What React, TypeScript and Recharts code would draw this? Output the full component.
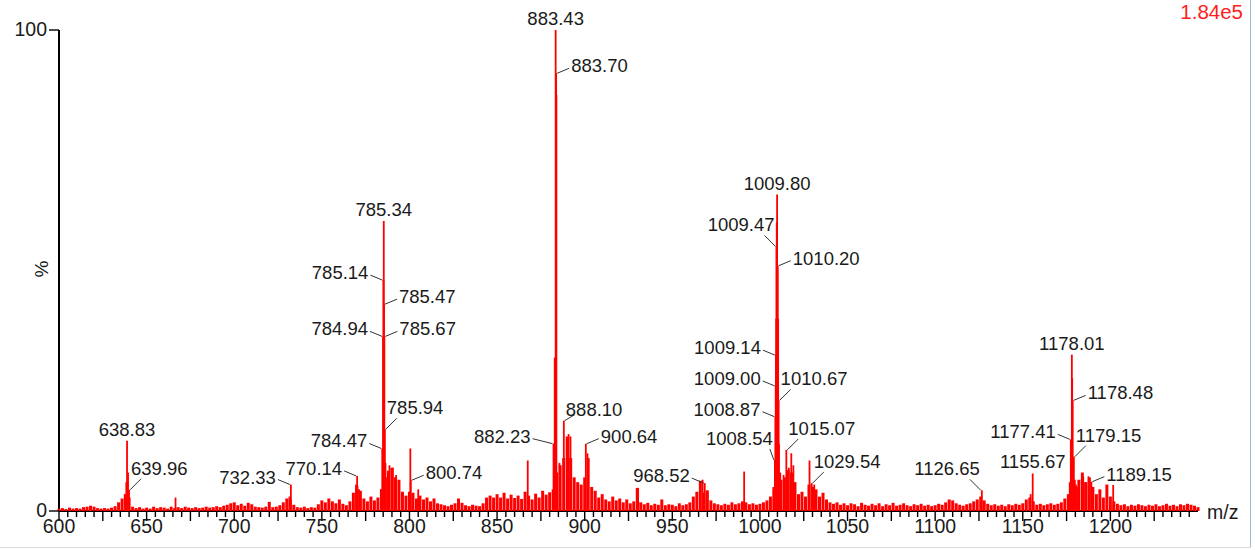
import React from 'react';
import { ScatterChart, Scatter, XAxis, YAxis } from 'recharts';

const CHART_W = 1255;
const CHART_H = 550;
const MARGIN = { top: 30, right: 57, bottom: 9, left: 0 };
const X_AXIS_H = 30;
const Y_AXIS_W = 59;
const BASE_Y = CHART_H - MARGIN.bottom - X_AXIS_H;

const RED = '#ff0000';
const INK = '#1a1a1a';
const FONT = '"Liberation Sans", Arial, sans-serif';

// profile noise, one reading every 2 m/z starting at 600 (% of base peak)
const noiseStartMz = 600;
const noiseStepMz = 2;
const noisePct = [
  0.5, 0.6, 0.4, 0.7, 0.5, 0.6, 0.5, 0.8, 0.9, 1.1, 0.9, 0.6, 0.5, 0.6, 0.5, 0.7, 1.0, 1.8, 2.6, 3.4, 2.8, 0.9, 0.6, 0.8, 0.5,
  0.7, 0.5, 0.9, 0.6, 0.8, 0.7, 0.5, 0.9, 0.6, 0.8, 0.6, 0.9, 0.7, 0.6, 0.8, 0.6, 0.7, 0.9, 0.7, 0.8, 1.0, 0.8, 1.1, 1.3, 1.6,
  1.8, 1.2, 1.5, 1.1, 1.7, 1.4, 0.9, 0.8, 0.7, 0.9, 1.9, 0.8, 0.9, 1.2, 1.8, 2.6, 2.4, 1.3, 0.8, 0.7, 0.9, 0.6, 0.8, 0.7, 1.4,
  2.2, 1.8, 2.6, 2.0, 1.6, 2.4, 1.5, 1.2, 2.0, 3.8, 5.2, 4.2, 2.6, 2.0, 3.0, 2.2, 2.8, 4.5, 6.0, 8.4, 9.0, 7.0, 6.5, 4.0, 3.2,
  4.0, 3.8, 2.6, 3.2, 2.4, 2.8, 2.0, 2.6, 1.6, 1.4, 1.2, 1.0, 1.3, 1.6, 2.6, 1.7, 1.2, 1.0, 1.3, 1.1, 1.0, 1.6, 2.8, 3.2, 2.8,
  3.5, 2.8, 3.8, 2.6, 3.4, 2.7, 3.2, 2.5, 4.0, 3.2, 2.4, 3.6, 2.8, 4.2, 3.4, 3.9, 4.5, 2.0, 9.5, 11.0, 15.5, 11.0, 7.0, 6.0, 5.5,
  7.0, 11.0, 5.0, 4.2, 2.8, 3.5, 2.4, 2.0, 3.0, 2.2, 2.6, 1.8, 2.4, 1.6, 2.0, 4.8, 1.8, 1.4, 1.7, 1.2, 1.5, 1.3, 2.4, 1.2, 1.4,
  1.3, 1.0, 1.6, 1.2, 1.4, 1.8, 3.0, 4.0, 6.3, 3.8, 4.3, 2.2, 1.6, 1.4, 1.2, 1.5, 1.3, 1.8, 1.4, 1.6, 2.0, 1.8, 1.4, 1.6, 1.3,
  1.5, 1.8, 2.2, 3.0, 5.0, 6.0, 6.5, 7.0, 8.5, 8.0, 6.0, 3.5, 4.0, 3.0, 5.5, 5.0, 4.5, 3.0, 3.8, 2.4, 1.8, 1.5, 1.8, 1.3, 1.6,
  1.2, 1.6, 1.4, 1.0, 1.7, 1.3, 1.1, 1.5, 1.2, 1.6, 1.0, 1.4, 1.2, 1.7, 1.1, 1.3, 1.6, 1.2, 1.0, 1.4, 1.2, 1.5, 1.1, 1.3, 1.0,
  1.2, 1.5, 1.3, 1.8, 2.4, 2.2, 1.6, 1.3, 1.1, 1.4, 1.6, 2.0, 2.4, 3.0, 2.2, 1.5, 1.2, 1.4, 1.1, 1.3, 1.0, 1.4, 1.2, 1.5, 1.3,
  1.6, 2.4, 2.8, 2.0, 1.3, 1.5, 1.2, 1.4, 1.6, 1.3, 1.5, 1.8, 2.6, 3.5, 6.0, 5.5, 6.5, 8.0, 6.0, 7.0, 5.0, 3.5, 4.5, 2.8, 5.5,
  3.0, 2.0, 1.5, 1.2, 1.4, 1.0, 1.3, 1.1, 1.4, 1.2, 1.0, 1.3, 1.1, 1.4, 1.0, 1.2, 1.5, 1.1, 1.3, 1.0, 1.4, 1.2, 1.5, 1.3, 1.1,
  0.8,
];

// unlabelled sticks that stand above the noise
const peakMz = [
  637.5, 638.4, 639.4, 666.5, 731.5, 769.5, 771.2, 783.8, 786.3, 787.2, 788.6, 790.5, 792.4, 800.5, 805.0,
  867.5, 882.9, 883.85, 884.4, 885.6, 890.8, 891.9, 901.6, 930.5, 967.3, 991.0, 1007.8, 1009.3, 1009.6,
  1010.4, 1010.9, 1011.6, 1013.5, 1016.5, 1017.9, 1019.1, 1028.3, 1031.0, 1154.5, 1176.8, 1178.2, 1179.7,
  1181.0, 1184.5, 1185.6, 1187.5, 1201.6,
];
const peakPct = [
  3.5, 6.0, 8.0, 2.8, 3.0, 5.5, 4.5, 4.5, 10.0, 7.0, 9.5, 9.0, 7.5, 13.0, 4.5,
  10.5, 31.9, 86.5, 8.0, 10.0, 16.0, 15.5, 12.0, 4.8, 6.5, 8.2, 4.5, 40.0, 60.0,
  40.0, 14.0, 8.0, 7.5, 9.0, 12.0, 9.5, 10.5, 5.5, 3.5, 6.0, 27.6, 6.5,
  5.0, 7.1, 6.0, 7.2, 5.4,
];

// labelled peaks
const labelMz = [
  638.83, 639.96, 732.33, 770.14, 784.47, 784.94, 785.14, 785.34, 785.47, 785.67, 785.94, 800.74,
  882.23, 883.43, 883.70, 888.10, 900.64, 968.52, 1008.54, 1008.87, 1009.0, 1009.14, 1009.47, 1009.80,
  1010.20, 1010.67, 1015.07, 1029.54, 1126.65, 1155.67, 1177.41, 1178.01, 1178.48, 1179.15, 1189.15,
];
const labelPct = [
  14.6, 4.4, 5.5, 7.3, 13.0, 36.3, 48.0, 60.3, 43.0, 36.3, 17.0, 6.4,
  14.0, 100, 91.0, 18.8, 14.0, 5.8, 10.6, 19.6, 26.0, 32.4, 55.0, 65.8,
  51.0, 23.0, 12.7, 5.8, 4.3, 7.8, 14.9, 32.5, 23.0, 11.3, 6.1,
];
// where each label sits: c = above, l / r = beside with leader, al / ar = above-left / above-right
const labelPlace: [string, number?, number?][] = [
  ['c'], ['ar'], ['l'], ['l'], ['l'], ['l'], ['l'], ['c'], ['r'], ['r'], ['ar'], ['r'],
  ['l', 20], ['c'], ['r'], ['ar', 10, 10], ['r'], ['l'], ['al', 4], ['l'], ['l'], ['l'], ['al'], ['c'],
  ['r'], ['ar'], ['ar'], ['ar'], ['al'], ['c'], ['l'], ['c'], ['r'], ['ar'], ['r'],
];

const xMajorLabels = [600, 650, 700, 750, 800, 850, 900, 950, 1000, 1050, 1100, 1150, 1200];
const xTicks = Array.from({ length: 130 }, (_, i) => 600 + i * 5);
const yTicks = [0, 100];

const stickData = noisePct.map((pct, i) => ({ mz: noiseStartMz + i * noiseStepMz, pct }));
const peakData = [
  ...peakMz.map((mz, i) => ({ mz, pct: peakPct[i] })),
  ...labelMz.map((mz, i) => ({ mz, pct: labelPct[i] })),
];
const labelData = labelMz.map((mz, i) => ({ mz, pct: labelPct[i], idx: i }));

const stick = (w: number) => (props: any) => {
  const { cx, cy } = props;
  if (cx == null || cy == null) return <g />;
  return <line x1={cx} x2={cx} y1={cy} y2={BASE_Y} stroke={RED} strokeWidth={w} />;
};

const PeakLabel = (props: any) => {
  const { cx, cy, payload } = props;
  if (cx == null || cy == null) return <g />;
  const [kind, len = kind === 'al' || kind === 'ar' ? 11 : 12, dy = 0] = labelPlace[payload.idx];
  const text = payload.mz.toFixed(2);
  const t = { fontSize: 18.5, fontFamily: FONT, fill: INK };
  const lead = { stroke: '#333', strokeWidth: 1 };
  if (kind === 'c') {
    return <text x={cx} y={cy - 5} textAnchor="middle" {...t}>{text}</text>;
  }
  if (kind === 'r') {
    return (
      <g>
        <line x1={cx + 1} y1={cy} x2={cx + 1 + len} y2={cy - 5} {...lead} />
        <text x={cx + len + 3} y={cy - 1} textAnchor="start" {...t}>{text}</text>
      </g>
    );
  }
  if (kind === 'l') {
    return (
      <g>
        <line x1={cx - 1} y1={cy} x2={cx - 1 - len} y2={cy - 5} {...lead} />
        <text x={cx - len - 3} y={cy - 1} textAnchor="end" {...t}>{text}</text>
      </g>
    );
  }
  if (kind === 'ar') {
    return (
      <g>
        <line x1={cx + 1} y1={cy} x2={cx + 1 + len} y2={cy - 11 + dy / 2} {...lead} />
        <text x={cx + 2} y={cy - 15 + dy} textAnchor="start" {...t}>{text}</text>
      </g>
    );
  }
  return (
    <g>
      <line x1={cx - 1} y1={cy} x2={cx - 1 - len} y2={cy - 11} {...lead} />
      <text x={cx - 2} y={cy - 15 + dy} textAnchor="end" {...t}>{text}</text>
    </g>
  );
};

const XTick = (props: any) => {
  const { x, y, payload } = props;
  const v = payload.value as number;
  const len = v % 25 === 0 ? 10 : 6;
  return (
    <g>
      <line x1={x} x2={x} y1={y} y2={y + len} stroke="#000" strokeWidth={1.4} />
      {xMajorLabels.includes(v) && (
        <text x={x} y={y + 22} textAnchor="middle" fontSize={19.5} fontFamily={FONT} fill={INK}>
          {v}
        </text>
      )}
    </g>
  );
};

const YTick = (props: any) => {
  const { x, y, payload } = props;
  return (
    <g>
      <line x1={x - 10} x2={x} y1={y} y2={y} stroke="#000" strokeWidth={1.4} />
      <text x={x - 12} y={y + 6} textAnchor="end" fontSize={19.5} fontFamily={FONT} fill={INK}>
        {payload.value}
      </text>
    </g>
  );
};

export default function App() {
  return (
    <div style={{ position: 'fixed', left: 0, top: 0, width: CHART_W, height: CHART_H, background: '#fff' }}>
      <ScatterChart width={CHART_W} height={CHART_H} margin={MARGIN}>
        <XAxis
          type="number"
          dataKey="mz"
          domain={[600, 1250]}
          ticks={xTicks}
          interval={0}
          tick={<XTick />}
          tickLine={false}
          tickSize={0}
          tickMargin={0}
          height={X_AXIS_H}
          axisLine={{ stroke: '#000', strokeWidth: 2 }}
        />
        <YAxis
          type="number"
          dataKey="pct"
          domain={[0, 100]}
          ticks={yTicks}
          interval={0}
          tick={<YTick />}
          tickLine={false}
          tickSize={0}
          tickMargin={0}
          width={Y_AXIS_W}
          axisLine={{ stroke: '#000', strokeWidth: 2 }}
        />
        <Scatter data={stickData} shape={stick(3)} isAnimationActive={false} />
        <Scatter data={peakData} shape={stick(1.8)} isAnimationActive={false} />
        <Scatter data={labelData} shape={PeakLabel} isAnimationActive={false} />
      </ScatterChart>
      <svg
        width={CHART_W}
        height={CHART_H}
        style={{ position: 'absolute', left: 0, top: 0, pointerEvents: 'none' }}
      >
        <text x={1243} y={19} textAnchor="end" fontSize={20.5} fontFamily={FONT} fill="#ff2020">1.84e5</text>
        <text x={1207} y={519} fontSize={19.5} fontFamily={FONT} fill={INK}>m/z</text>
        <text x={41} y={269} transform="rotate(-90 41 269)" textAnchor="middle" dominantBaseline="central" fontSize={19} fontFamily={FONT} fill={INK}>%</text>
        <line x1={1250.5} x2={1250.5} y1={0} y2={547} stroke="#9fb7d6" strokeWidth={1} />
        <line x1={0} x2={1251} y1={547.5} y2={547.5} stroke="#d9d9d9" strokeWidth={1} />
      </svg>
    </div>
  );
}
